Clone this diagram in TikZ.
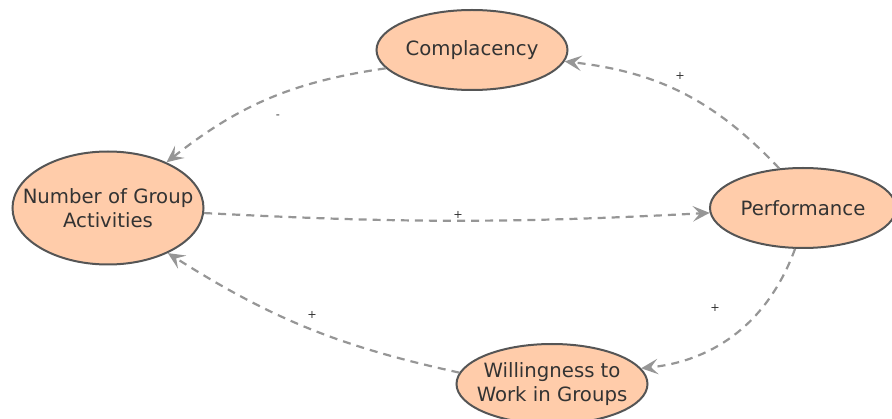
\documentclass[tikz,border=0pt]{standalone}
\usepackage{fontspec}
\setmainfont{DejaVu Sans}
\usetikzlibrary{shapes.geometric,arrows.meta}
\definecolor{nodefill}{RGB}{255,204,170}
\definecolor{nodeline}{RGB}{85,85,85}
\definecolor{linkgray}{RGB}{150,150,150}
\definecolor{textgray}{RGB}{51,51,51}
\begin{document}
\begin{tikzpicture}[
    var/.style={ellipse, draw=nodeline, fill=nodefill, line width=0.050cm,
      inner sep=0pt, minimum width=4.775cm, minimum height=2.000cm},
    vartext/.style={text=textgray, align=center, font=\fontsize{14}{17}\selectfont},
    link/.style={draw=linkgray, line width=0.055cm, dash pattern=on 5.7pt off 4.3pt,
      -{Stealth[length=12pt, width=11pt, inset=5pt, fill=linkgray]}},
    sign/.style={text=textgray, font=\fontsize{8}{9}\selectfont, inner sep=0pt}
  ]
  \useasboundingbox (0.000000,0.000000) rectangle (22.300000,10.475000);
  \clip (0.000000,0.000000) rectangle (22.300000,10.475000);

  % Marking variable Complacency
  \node [var, label={[vartext]center:Complacency}] (cmp) at (11.800000,9.225000) {};

  % Marking variable Number of Group Activities
  \node [var, minimum height=2.825cm, label={[vartext]center:Number of Group\\Activities}] (nga) at (2.700000,5.275000) {};

  % Marking variable Performance
  \node [var, minimum width=4.650cm, label={[vartext]center:Performance}] (prf) at (20.075000,5.275000) {};

  % Marking variable Willingness to Work in Groups
  \node [var, label={[vartext]center:Willingness to\\Work in Groups}] (wil) at (13.800000,0.875000) {};

  % Drawing link Complacency -> Number of Group Activities
  \draw [link] (cmp.192) to [bend right=15] (nga.38);

  % Drawing link Performance -> Complacency
  \draw [link] (prf.121) to [bend right=20] (cmp.353);

  % Drawing link Number of Group Activities -> Performance
  \draw [link] (nga.357) to [bend right=3] (prf.183);

  % Drawing link Performance -> Willingness to Work in Groups
  \draw [link] (prf.259) to [bend left=32] (wil.10);

  % Drawing link Willingness to Work in Groups -> Number of Group Activities
  \draw [link] (wil.173) to [bend left=10] (nga.323);

  % Marking polarities
  \node [sign] (s1) at (6.950000,7.550000) {-};
  \node [sign] (s2) at (17.000000,8.575000) {+};
  \node [sign] (s3) at (11.450000,5.100000) {+};
  \node [sign] (s4) at (17.875000,2.775000) {+};
  \node [sign] (s5) at (7.800000,2.600000) {+};
\end{tikzpicture}
\end{document}
